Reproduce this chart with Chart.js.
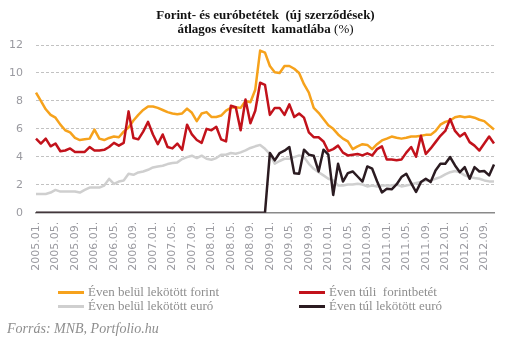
<!DOCTYPE html>
<html>
<head>
<meta charset="utf-8">
<script src="https://cdn.jsdelivr.net/npm/chart.js@4/dist/chart.umd.min.js"></script>
<style>
  body { margin: 0; background: #fff; }
  #wrap { position: relative; width: 531px; height: 342px; overflow: hidden; }
  #chart { position: absolute; left: 0; top: 0; }
  #title { position: absolute; left: 0; top: 8px; width: 531px; text-align: center;
           font: bold 13px "Liberation Serif", serif; line-height: 14px; color: #111; }
  #title span { font-weight: normal; }
  .leg { position: absolute; font: 13px "Liberation Serif", serif; color: #8e8e8e; white-space: nowrap; }
  .leg i { position: absolute; width: 26px; height: 3px; top: 7px; }
  #source { position: absolute; left: 7px; top: 321px; font: italic 14px "Liberation Serif", serif; color: #8e8e8e; }
</style>
</head>
<body>
<div id="wrap">
  <canvas id="chart" width="531" height="342"></canvas>
  <div id="title">Forint- és euróbetétek&nbsp; (új szerződések)<br>átlagos évesített&nbsp; kamatlába <span>(%)</span></div>
  <div id="legend"></div>
  <div id="source">Forrás: MNB, Portfolio.hu</div>
</div>
<script>
var startYear = 2005;
var monthCount = 95;
var tickEvery = 4;

var seriesNames = ['Éven belül lekötött forint', 'Éven túli  forintbetét', 'Éven belül lekötött euró', 'Éven túl lekötött euró'];
var seriesColors = ['#f6a21c', '#c2121b', '#cfcfcf', '#2b1b21'];

var hufShort = [8.6, 8.0, 7.4, 7.0, 6.8, 6.3, 5.9, 5.75, 5.35, 5.2,
  5.25, 5.3, 5.95, 5.3, 5.2, 5.35, 5.45, 5.4, 5.8, 6.1,
  6.6, 7.0, 7.35, 7.6, 7.6, 7.5, 7.35, 7.2, 7.1, 7.05,
  7.1, 7.45, 7.15, 6.55, 7.1, 7.2, 6.85, 6.85, 6.95, 7.3,
  7.5, 7.55, 7.5, 8.0, 7.9, 8.8, 11.6, 11.45, 10.5, 10.05,
  10.0, 10.5, 10.5, 10.3, 10.0, 9.2, 8.6, 7.5, 7.15, 6.7,
  6.25, 6.0, 5.6, 5.3, 5.1, 4.55, 4.75, 4.9, 4.85, 4.55,
  4.9, 5.17, 5.3, 5.45, 5.36, 5.3, 5.36, 5.45, 5.45, 5.5,
  5.57, 5.57, 5.85, 6.3, 6.5, 6.6, 6.83, 6.9, 6.83, 6.88,
  6.8, 6.65, 6.55, 6.25, 5.95];

var hufLong = [5.3, 4.95, 5.3, 4.75, 4.95, 4.4, 4.45, 4.6, 4.35, 4.35,
  4.35, 4.7, 4.45, 4.45, 4.5, 4.7, 5.0, 4.8, 5.0, 7.25,
  5.35, 5.25, 5.8, 6.5, 5.6, 4.9, 5.6, 4.7, 4.6, 4.95,
  4.5, 6.3, 5.6, 5.2, 5.0, 6.0, 5.9, 6.15, 5.25, 5.1,
  7.65, 7.55, 5.9, 8.1, 6.4, 7.3, 9.3, 9.15, 7.0, 7.5,
  7.5, 7.0, 7.75, 6.85, 7.1, 6.8, 5.75, 5.4, 5.4, 5.1,
  4.4, 4.55, 4.8, 4.3, 4.1, 4.15, 4.2, 4.1, 4.25, 4.1,
  4.55, 4.75, 3.8, 3.8, 3.76, 3.8, 4.3, 4.7, 4.0, 5.5,
  4.2, 4.6, 5.05, 5.5, 5.85, 6.7, 5.85, 5.45, 5.7, 5.05,
  4.8, 4.45, 4.95, 5.45, 4.95];

var eurShort = [1.34, 1.34, 1.34, 1.44, 1.63, 1.51, 1.51, 1.51, 1.51, 1.44,
  1.63, 1.8, 1.8, 1.8, 1.94, 2.42, 2.06, 2.23, 2.3, 2.78,
  2.71, 2.88, 2.95, 3.07, 3.24, 3.31, 3.36, 3.48, 3.55, 3.6,
  3.84, 3.98, 4.08, 3.91, 4.08, 3.86, 3.79, 3.91, 4.15, 4.15,
  4.27, 4.22, 4.32, 4.46, 4.63, 4.75, 4.85, 4.57, 4.21, 3.5,
  3.7, 3.86, 3.86, 3.98, 4.1, 3.98, 3.5, 3.14, 2.9, 2.67,
  2.43, 2.31, 1.95, 1.95, 2.02, 2.02, 2.07, 2.02, 1.88, 1.95,
  1.88, 1.95, 1.95, 1.95, 2.02, 1.88, 1.95, 2.02, 2.12, 2.19,
  2.31, 2.31, 2.43, 2.55, 2.74, 2.9, 2.98, 2.9, 2.67, 2.55,
  2.48, 2.43, 2.31, 2.24, 2.24];

var eurLong = [0, 0, 0, 0, 0, 0, 0, 0, 0, 0,
  0, 0, 0, 0, 0, 0, 0, 0, 0, 0,
  0, 0, 0, 0, 0, 0, 0, 0, 0, 0,
  0, 0, 0, 0, 0, 0, 0, 0, 0, 0,
  0, 0, 0, 0, 0, 0, 0, 0, 4.27, 3.74,
  4.27, 4.44, 4.7, 2.83, 2.78, 4.51, 4.15, 4.08, 2.95, 4.51,
  4.15, 1.27, 3.5, 2.23, 2.83, 2.95, 2.59, 2.23, 3.31, 3.15,
  2.25, 1.45, 1.71, 1.67, 2.02, 2.55, 2.79, 2.12, 1.48, 2.19,
  2.43, 2.19, 3.02, 3.5, 3.5, 3.98, 3.38, 2.9, 3.26, 2.43,
  3.26, 2.95, 2.98, 2.67, 3.45];

var yTicks = [0, 2, 4, 6, 8, 10, 12];

// month labels like "2005.01."
var monthLabels = [];
for (var m = 0; m < monthCount; m++) {
  var y = startYear + Math.floor(m / 12);
  var mm = (m % 12) + 1;
  monthLabels.push(y + '.' + (mm < 10 ? '0' + mm : mm) + '.');
}

var allSeries = [hufShort, hufLong, eurShort, eurLong];
var drawOrder = [3, 1, 2, 0];
var tickColor = '#9a9aa0';
var tickFont = { family: 'DejaVu Sans', size: 11 };

var datasets = allSeries.map(function(values, i) {
  return {
    label: seriesNames[i],
    data: values,
    borderColor: seriesColors[i],
    backgroundColor: seriesColors[i],
    borderWidth: 2.5,
    pointRadius: 0,
    tension: 0,
    fill: false,
    borderJoinStyle: 'round',
    order: drawOrder[i]
  };
});

var chart = new Chart(document.getElementById('chart').getContext('2d'), {
  type: 'line',
  data: { labels: monthLabels, datasets: datasets },
  options: {
    responsive: false,
    animation: false,
    layout: { padding: { top: 45, right: 37, left: 0, bottom: 0 } },
    plugins: {
      legend: { display: false },
      tooltip: { enabled: false }
    },
    scales: {
      x: {
        grid: { display: false, drawTicks: false },
        border: { display: true, color: '#8a8a8a', width: 1.5 },
        ticks: {
          autoSkip: false,
          minRotation: 90,
          maxRotation: 90,
          padding: 9,
          color: tickColor,
          font: tickFont,
          callback: function(v, i) { return i % tickEvery === 0 ? monthLabels[i] : ''; }
        },
        afterFit: function(scale) { scale.height = 129.3; }
      },
      y: {
        min: yTicks[0],
        max: yTicks[yTicks.length - 1],
        afterBuildTicks: function(scale) {
          scale.ticks = yTicks.map(function(v) { return { value: v }; });
        },
        grid: { color: '#c2c2c2', lineWidth: 1, drawTicks: false },
        border: { display: false, dash: [3, 2] },
        ticks: { padding: 13, color: tickColor, font: tickFont },
        afterFit: function(scale) { scale.width = 36; }
      }
    }
  }
});

// legend in two columns, built from the chart's datasets
var legendPos = [[58, 283.5], [299, 283.5], [58, 298], [299, 298]];
var legend = document.getElementById('legend');
chart.data.datasets.forEach(function(ds, i) {
  var item = document.createElement('div');
  item.className = 'leg';
  item.style.left = legendPos[i][0] + 'px';
  item.style.top = legendPos[i][1] + 'px';
  item.style.paddingLeft = '30px';
  item.innerHTML = '<i style="left:0;background:' + ds.borderColor + '"></i>' + ds.label.replace('  ', '&nbsp; ');
  legend.appendChild(item);
});
</script>
</body>
</html>
